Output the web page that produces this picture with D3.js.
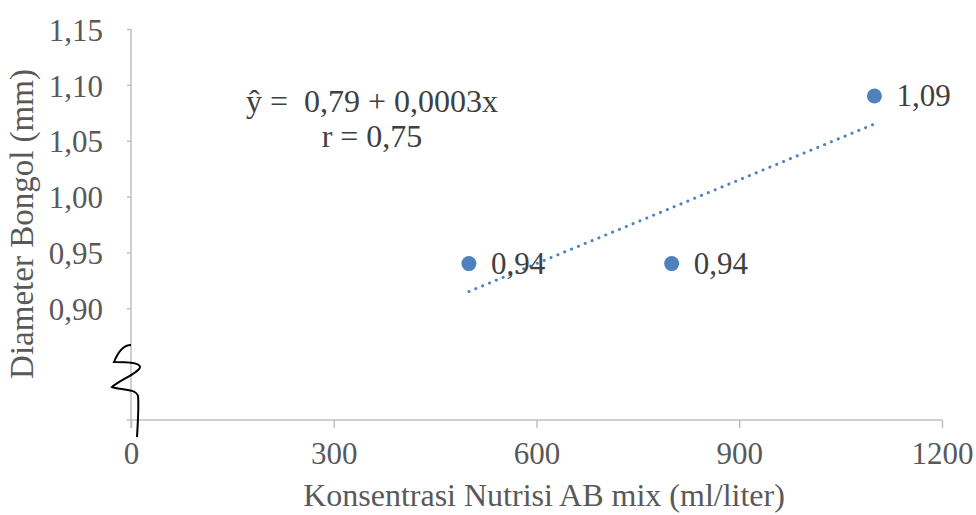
<!DOCTYPE html>
<html>
<head>
<meta charset="utf-8">
<script src="https://cdn.jsdelivr.net/npm/d3@7"></script>
<style>
  body { margin: 0; background: #fff; }
  svg { display: block; font-family: "Liberation Serif", "Times New Roman", serif; }
</style>
</head>
<body>
<svg id="chart" width="976" height="515"></svg>
<script>
// data
var concentrations = [500, 800, 1100];
var diameters = [0.94, 0.94, 1.09];
var pointLabels = ["0,94", "0,94", "1,09"];
var xTicks = [0, 300, 600, 900, 1200];
var yTicks = [0.90, 0.95, 1.00, 1.05, 1.10, 1.15];
var equationLines = ["ŷ =  0,79 + 0,0003x", "r = 0,75"];

var svg = d3.select("#chart");
var plotLeft = 131, plotRight = 942, plotTop = 29, plotBottom = 420;

var x = d3.scaleLinear().domain([0, 1200]).range([plotLeft, plotRight]);
var y = d3.scaleLinear().domain([0.80, 1.15]).range([plotBottom, plotTop]);

var axisColor = "#bfbfbf";
var textColor = "#595959";
var blue = "#4f81bd";

// axes
var xAxis = svg.append("g")
  .attr("transform", "translate(0," + plotBottom + ")")
  .call(d3.axisBottom(x).tickValues(xTicks).tickSize(8).tickPadding(14).tickFormat(d3.format("d")));
xAxis.select(".domain").attr("d", "M" + (plotLeft - 4) + ",0H" + plotRight);

var yAxis = svg.append("g")
  .attr("transform", "translate(" + plotLeft + ",0)")
  .call(d3.axisLeft(y).tickValues(yTicks).tickSize(4).tickPadding(24)
    .tickFormat(function(d) { return d3.format(".2f")(d).replace(".", ","); }));
yAxis.select(".domain").attr("d", "M0," + plotTop + "V" + (plotBottom + 8));

svg.selectAll(".domain, .tick line").attr("stroke", axisColor).attr("stroke-width", 1.5);
svg.selectAll(".tick text")
  .attr("fill", textColor)
  .style("font-size", "31px")
  .style("font-family", "Liberation Serif, Times New Roman, serif");
yAxis.selectAll(".tick text").attr("dy", "0.36em");
xAxis.selectAll(".tick text").attr("dy", "0.71em");

// axis titles
svg.append("text")
  .attr("x", 544)
  .attr("y", 506)
  .attr("text-anchor", "middle")
  .attr("fill", textColor)
  .style("font-size", "32px")
  .text("Konsentrasi Nutrisi AB mix (ml/liter)");

svg.append("text")
  .attr("transform", "translate(33,224) rotate(-90)")
  .attr("text-anchor", "middle")
  .attr("fill", textColor)
  .style("font-size", "33px")
  .text("Diameter Bongol (mm)");

// trendline from least squares
var mx = d3.mean(concentrations), my = d3.mean(diameters);
var sxy = d3.sum(concentrations, function(c, i) { return (c - mx) * (diameters[i] - my); });
var sxx = d3.sum(concentrations, function(c) { return (c - mx) * (c - mx); });
var slope = sxy / sxx, intercept = my - slope * mx;
var xExt = d3.extent(concentrations);

svg.append("line")
  .attr("x1", x(xExt[0])).attr("y1", y(intercept + slope * xExt[0]))
  .attr("x2", x(xExt[1])).attr("y2", y(intercept + slope * xExt[1]))
  .attr("stroke", blue)
  .attr("stroke-width", 3)
  .attr("stroke-linecap", "round")
  .attr("stroke-dasharray", "0.1 7.3");

// points
var pts = concentrations.map(function(c, i) { return { x: c, y: diameters[i], label: pointLabels[i] }; });

svg.selectAll("circle.pt")
  .data(pts)
  .enter()
  .append("circle")
  .attr("class", "pt")
  .attr("cx", function(d) { return x(d.x); })
  .attr("cy", function(d) { return y(d.y); })
  .attr("r", 7.5)
  .attr("fill", blue);

svg.selectAll("text.lbl")
  .data(pts)
  .enter()
  .append("text")
  .attr("class", "lbl")
  .attr("x", function(d) { return x(d.x) + 22; })
  .attr("y", function(d) { return y(d.y) + 10; })
  .attr("fill", "#404040")
  .style("font-size", "31px")
  .text(function(d) { return d.label; });

// equation
svg.selectAll("text.eq")
  .data(equationLines)
  .enter()
  .append("text")
  .attr("class", "eq")
  .attr("x", 372)
  .attr("y", function(d, i) { return 112 + i * 35; })
  .attr("text-anchor", "middle")
  .attr("fill", "#404040")
  .style("font-size", "32px")
  .style("white-space", "pre")
  .text(function(d) { return d; });

// axis break mark
svg.append("path")
  .attr("d", "M131,345 C124,345 118,352 114,362 C124,362 140,362 140,367 C140,372 120,380 112,387 C118,390 136,388 138,396 C139,405 138,420 137,437")
  .attr("fill", "none")
  .attr("stroke", "#000")
  .attr("stroke-width", 2);
</script>
</body>
</html>
